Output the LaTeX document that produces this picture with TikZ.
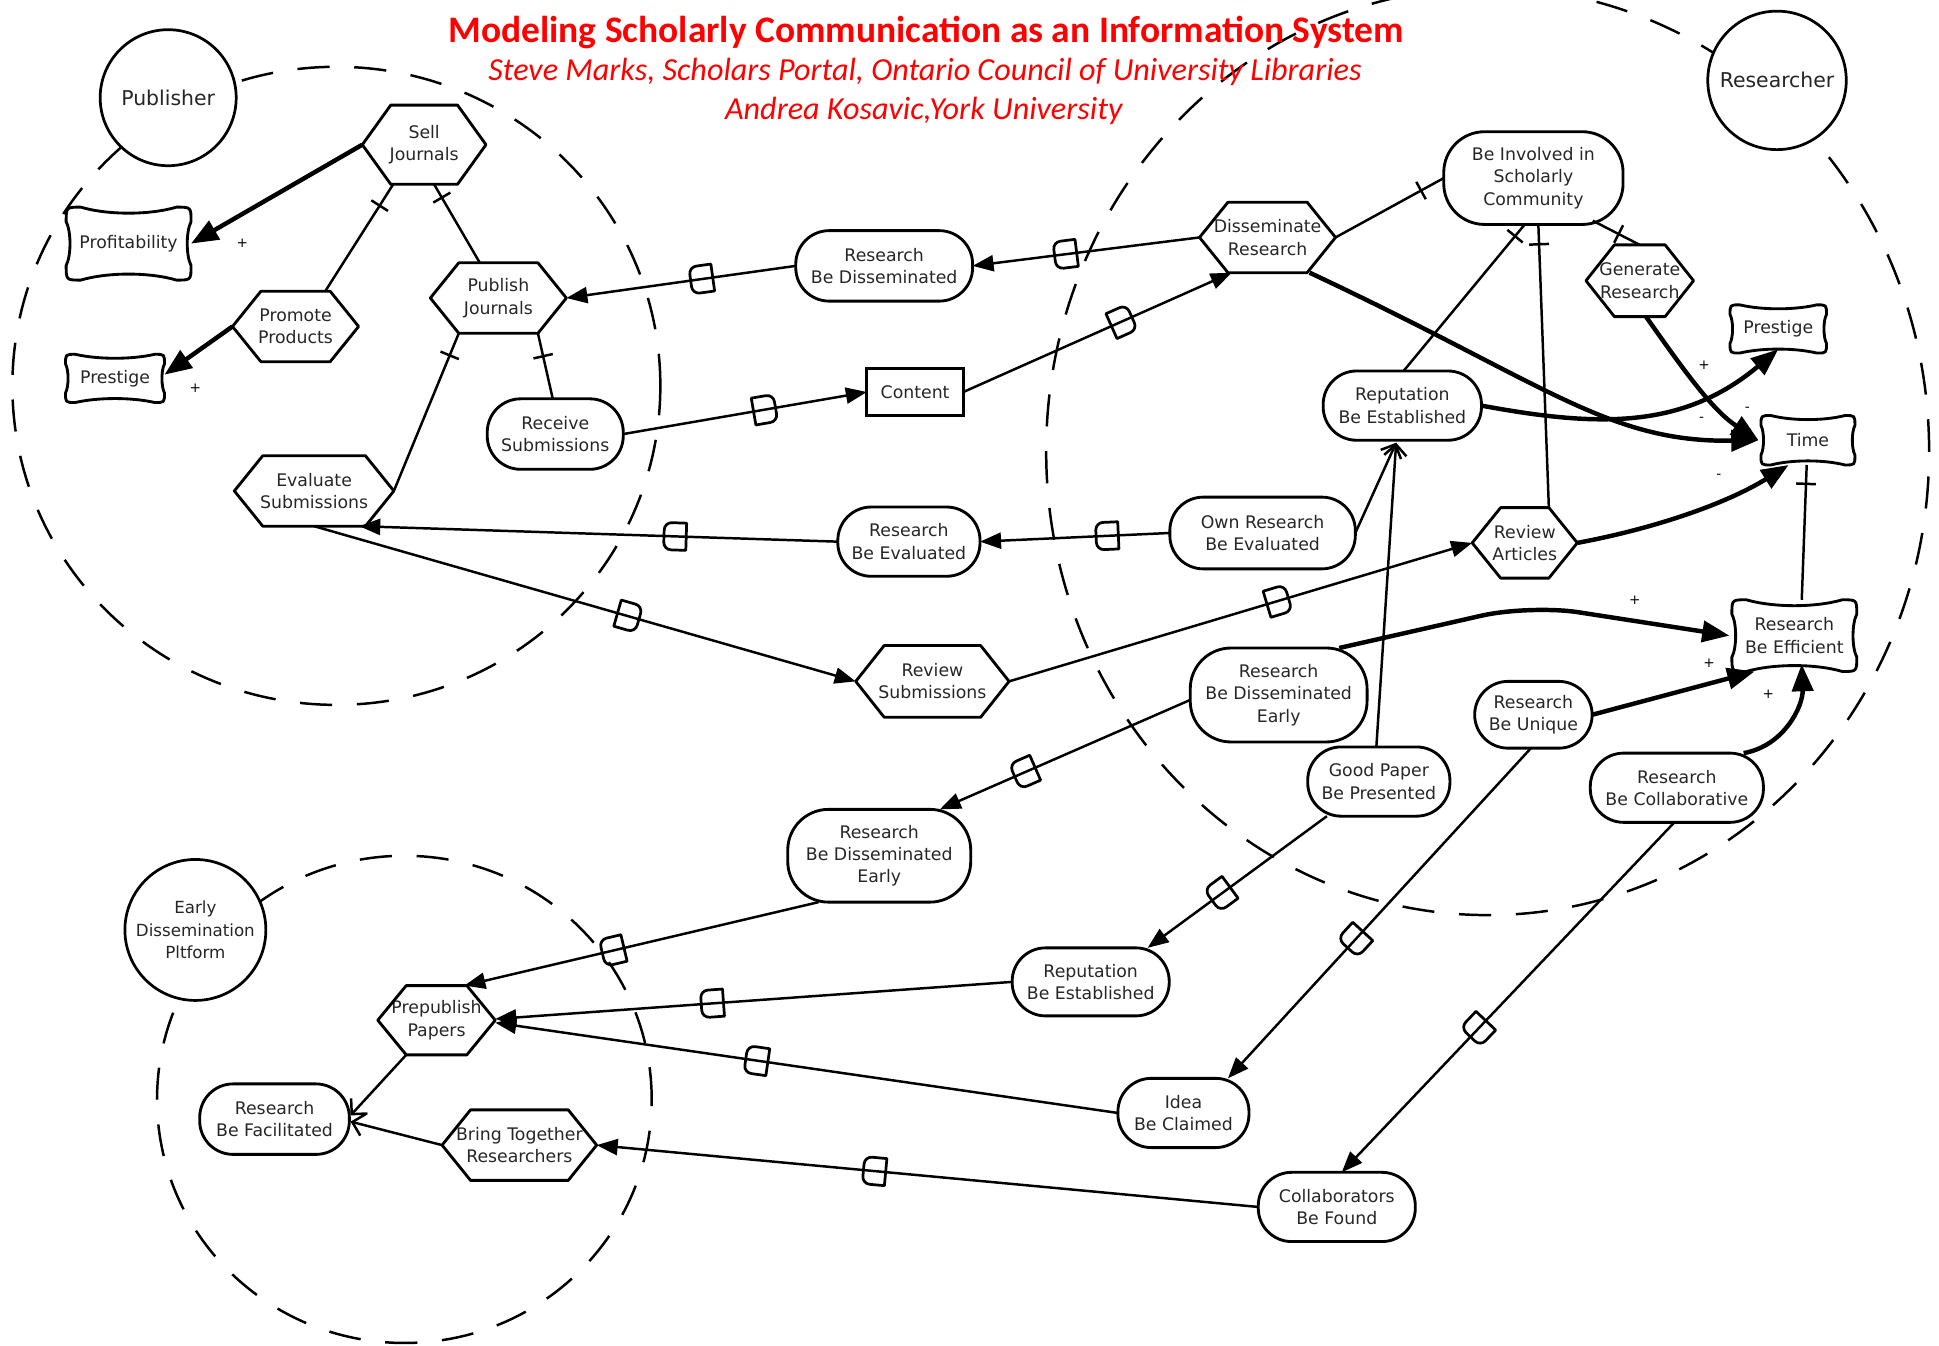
\documentclass[tikz,border=0pt]{standalone}
\usepackage{fontspec}
\setmainfont{DejaVu Sans}
\newfontfamily\headfont{Carlito}
\usetikzlibrary{arrows.meta,calc,decorations.markings}

% hexagonal task node: name, x, y, width, height, text
\newcommand{\hexnode}[6]{%
  \node[boxbase, minimum width=#4pt, minimum height=#5pt] (#1) at (#2,#3) {#6};
  \path (#1.north west) ++(23pt,0pt) coordinate (#1-tl)
        (#1.north east) ++(-23pt,0pt) coordinate (#1-tr)
        (#1.south west) ++(23pt,0pt) coordinate (#1-bl)
        (#1.south east) ++(-23pt,0pt) coordinate (#1-br);
  \draw[nodeline] (#1-tl) -- (#1-tr) -- (#1.east) -- (#1-br) -- (#1-bl) -- (#1.west) -- cycle;
}
% softgoal node with concave sides: name, x, y, width, height, text
\newcommand{\softnode}[6]{%
  \node[boxbase, minimum width=#4pt, minimum height=#5pt] (#1) at (#2,#3) {#6};
  \pgfmathsetmacro\sgA{#4/2}\pgfmathsetmacro\sgB{#5/2}
  \pgfmathsetmacro\sgAr{#4/2-0.4*#5/2}\pgfmathsetmacro\sgBr{0.6*#5/2}
  \pgfmathsetmacro\sgBk{0.78*#5/2}\pgfmathsetmacro\sgAs{#4/2-0.14*#5/2}
  \pgfmathsetmacro\sgAt{#4/6}\pgfmathsetmacro\sgBt{#5/6}
  \draw[nodeline, shift={(#1.center)}]
    (-\sgA,-\sgBr) .. controls (-\sgA,-\sgB) and (-\sgA,-\sgB) .. (-\sgAr,-\sgB)
    .. controls (-\sgAt,-\sgBk) and (\sgAt,-\sgBk) .. (\sgAr,-\sgB)
    .. controls (\sgA,-\sgB) and (\sgA,-\sgB) .. (\sgA,-\sgBr)
    .. controls (\sgAs,-\sgBt) and (\sgAs,\sgBt) .. (\sgA,\sgBr)
    .. controls (\sgA,\sgB) and (\sgA,\sgB) .. (\sgAr,\sgB)
    .. controls (\sgAt,\sgBk) and (-\sgAt,\sgBk) .. (-\sgAr,\sgB)
    .. controls (-\sgA,\sgB) and (-\sgA,\sgB) .. (-\sgA,\sgBr)
    .. controls (-\sgAs,\sgBt) and (-\sgAs,-\sgBt) .. (-\sgA,-\sgBr) -- cycle;
}

\begin{document}
\begin{tikzpicture}[x=1pt,y=-1pt,
  lbl/.style={font=\fontsize{14}{18}\selectfont, align=center, text=black!85},
  boxbase/.style={lbl, rectangle, inner sep=0pt, outer sep=0pt},
  nodeline/.style={line width=2.3pt, line join=round, draw=black},
  goal/.style={lbl, rectangle, draw, line width=2.3pt, rounded corners=#1, inner sep=0pt, outer sep=0pt},
  goal/.default=27pt,
  resource/.style={lbl, rectangle, draw, line width=2.3pt, inner sep=0pt, outer sep=0pt},
  actor/.style={circle, draw, line width=2.2pt, fill=white, align=center, inner sep=0pt, text=black!85},
  bnd/.style={line width=2pt, dash pattern=on 26pt off 20pt},
  link/.style={line width=2pt},
  dep/.style={link, -{Triangle[length=17pt,width=13pt]}},
  contrib/.style={line width=3.6pt, -{Triangle[length=22pt,width=17pt]}},
  meansend/.style={link, -{Straight Barb[length=9pt,width=18pt,line width=2pt]}},
  dmark/.style={postaction={decorate,decoration={markings,mark=at position #1 with
      {\draw[-,line width=2.2pt,line join=round] (-9pt,-11pt) [rounded corners=6pt] -- (9pt,-11pt)
        -- (9pt,11pt) [sharp corners] -- (-9pt,11pt) -- cycle;}}}},
  dbar/.style={postaction={decorate,decoration={markings,mark=at position #1 with
      {\draw[-,line width=2pt] (0pt,-8pt) -- (0pt,8pt);}}}},
  sign/.style={font=\fontsize{11}{11}\selectfont, inner sep=0pt},
  headline/.style={text=red, inner sep=0pt}
]
\useasboundingbox (0,0) rectangle (1568,1088);
\clip (0,0) rectangle (1568,1088);

% ---------- actor boundaries ----------
\draw[bnd] (272,312) ellipse [x radius=262pt, y radius=258pt];
\draw[bnd] (1203,365) ellipse [x radius=357pt, y radius=375pt];
\draw[bnd] (327,889) ellipse [x radius=200pt, y radius=197pt];

% ---------- actors ----------
\node[actor, minimum size=110pt, font=\fontsize{16.5}{20}\selectfont] (pub) at (136,79) {Publisher};
\node[actor, minimum size=112pt, font=\fontsize{16.5}{20}\selectfont] (resr) at (1437,65) {Researcher};
\node[actor, minimum size=114pt, font=\fontsize{13.5}{18}\selectfont] (edp) at (158,752) {Early\\Dissemination\\Pltform};

% ---------- title ----------
\node[headline, font=\headfont\bfseries\fontsize{30.3}{33}\selectfont] (title) at (749,26)
  {Modeling Scholarly Communication as an Information System};
\node[headline, font=\headfont\itshape\fontsize{26}{30}\selectfont] (auth1) at (748,58)
  {Steve Marks, Scholars Portal, Ontario Council of University Libraries};
\node[headline, font=\headfont\itshape\fontsize{26}{30}\selectfont] (auth2) at (747,90)
  {Andrea Kosavic,York University};

% ---------- tasks ----------
\hexnode{sj}{343}{117}{100}{64}{Sell\\Journals}
\hexnode{pp}{239}{264}{102}{57}{Promote\\Products}
\hexnode{pj}{403}{241}{110}{57}{Publish\\Journals}
\hexnode{es}{254}{397}{129}{57}{Evaluate\\Submissions}
\hexnode{revsub}{754}{551}{124}{58}{Review\\Submissions}
\hexnode{dr}{1025}{192}{110}{57}{Disseminate\\Research}
\hexnode{gr}{1326}{227}{87}{58}{Generate\\Research}
\hexnode{ra}{1233}{439}{85}{57}{Review\\Articles}
\hexnode{pre}{353}{825}{95}{56}{Prepublish\\Papers}
\hexnode{bt}{420}{926}{125}{57}{Bring Together\\Researchers}

% ---------- softgoals ----------
\softnode{prof}{104}{197}{101}{59}{Profitability}
\softnode{prl}{93}{306}{80}{39}{Prestige}
\softnode{prr}{1438}{266}{78}{39}{Prestige}
\softnode{time}{1462}{356}{76}{40}{Time}
\softnode{rbeff}{1451}{514}{101}{58}{Research\\Be Efficient}

% ---------- goals and resource ----------
\node[goal, minimum width=143pt, minimum height=57pt] (rbd) at (715,215) {Research\\Be Disseminated};
\node[resource, minimum width=78pt, minimum height=38pt] (content) at (740,317) {Content};
\node[goal, minimum width=115pt, minimum height=56pt] (rbev) at (735,438) {Research\\Be Evaluated};
\node[goal, minimum width=110pt, minimum height=57pt] (recv) at (449,351) {Receive\\Submissions};
\node[goal=33pt, minimum width=145pt, minimum height=75pt] (bi) at (1240,144) {Be Involved in\\Scholarly\\Community};
\node[goal, minimum width=128pt, minimum height=56pt] (rep) at (1134,328) {Reputation\\Be Established};
\node[goal, minimum width=150pt, minimum height=58pt] (orbe) at (1021,431) {Own Research\\Be Evaluated};
\node[goal=33pt, minimum width=143pt, minimum height=76pt] (rbder) at (1034,562) {Research\\Be Disseminated\\Early};
\node[goal, minimum width=95pt, minimum height=54pt] (rbu) at (1240,578) {Research\\Be Unique};
\node[goal, minimum width=115pt, minimum height=56pt] (gp) at (1115,632) {Good Paper\\Be Presented};
\node[goal, minimum width=140pt, minimum height=56pt] (rbc) at (1356,637) {Research\\Be Collaborative};
\node[goal=33pt, minimum width=148pt, minimum height=75pt] (rbdem) at (711,692) {Research\\Be Disseminated\\Early};
\node[goal, minimum width=127pt, minimum height=55pt] (repl) at (882,794) {Reputation\\Be Established};
\node[goal, minimum width=106pt, minimum height=56pt] (idea) at (957,900) {Idea\\Be Claimed};
\node[goal, minimum width=127pt, minimum height=56pt] (cbf) at (1081,976) {Collaborators\\Be Found};
\node[goal, minimum width=121pt, minimum height=57pt] (rbf) at (222,905) {Research\\Be Facilitated};

% ---------- decompositions ----------
\draw[link, dbar=0.2] ($(sj-bl)+(2pt,0pt)$) -- ($(pp-tr)+(-4pt,0pt)$);
\draw[link, dbar=0.17] ($(sj.south)+(8pt,0pt)$) -- ($(pj.north)+(-15pt,0pt)$);
\draw[link, dbar=0.14] (pj-bl) -- (es.east);
\draw[link, dbar=0.35] (pj-br) -- ($(recv.north)+(-2pt,0pt)$);
\draw[link, dbar=0.21] (bi.west) -- (dr.east);
\draw[link, dbar=0.55] ($(bi.south)+(48pt,3pt)$) -- (gr.north);
\draw[link, dbar=0.08] ($(bi.south)+(-7pt,0pt)$) -- ($(rep.north)+(1pt,0pt)$);
\draw[link, dbar=0.07] ($(bi.south)+(4pt,0pt)$) -- (ra-tr);
\draw[link, dbar=0.14] ($(time.south)+(-1pt,0pt)$) -- ($(rbeff.north)+(6pt,0pt)$);

% ---------- contributions ----------
\draw[contrib] (sj.west) -- (prof.east);
\node[sign] (s1) at (196,197) {+};
\draw[contrib] (pp.west) -- ($(prl.east)+(0pt,3pt)$);
\node[sign] (s2) at (158,314) {+};
\draw[contrib] ($(dr-br)+(2pt,0pt)$) .. controls (1250,310) and (1300,358) .. ($(time.west)+(-2pt,0pt)$);
\draw[contrib] ($(gr.south)+(5pt,0pt)$) .. controls (1362,300) and (1385,332) .. ($(time.west)+(-2pt,0pt)$);
\draw[contrib] (rep.east) .. controls (1290,345) and (1360,348) .. ($(prr.south)+(0pt,3pt)$);
\draw[contrib] (ra.east) .. controls (1335,428) and (1395,408) .. (time.-128);
\node[sign] (s3) at (1378,295) {+};
\node[sign] (s4) at (1376,339) {-};
\node[sign] (s5) at (1413,331) {-};
\node[sign] (s6) at (1390,385) {-};
\draw[contrib, rounded corners=40pt] ($(rbder.north)+(49pt,0pt)$) -- (1237,489) -- ($(rbeff.west)+(-2pt,0pt)$);
\draw[contrib] (rbu.east) -- (rbeff.-138);
\draw[contrib] ($(rbc.north)+(54pt,0pt)$) to[out=10,in=-88] ($(rbeff.south)+(6pt,6pt)$);
\node[sign] (s7) at (1322,485) {+};
\node[sign] (s8) at (1382,536) {+};
\node[sign] (s9) at (1430,561) {+};

% ---------- means-ends ----------
\draw[meansend] (orbe.east) -- ($(rep.south)+(-5pt,-2pt)$);
\draw[meansend] ($(gp.north)+(-2pt,0pt)$) -- ($(rep.south)+(-5pt,-2pt)$);
\draw[meansend] (pre-bl) -- ($(rbf.east)+(1pt,3pt)$);
\draw[meansend] (bt.west) -- ($(rbf.east)+(1pt,-2pt)$);

% ---------- dependencies ----------
\draw[dep, dmark=0.59] (dr.west) -- (rbd.east);
\draw[dep, dmark=0.41] (rbd.west) -- (pj.east);
\draw[dep, dmark=0.58] (recv.east) -- (content.west);
\draw[dep, dmark=0.59] (content.east) -- ($(dr-bl)+(3pt,0pt)$);
\draw[dep, dmark=0.33] (orbe.west) -- (rbev.east);
\draw[dep, dmark=0.34] (rbev.west) -- ($(es-br)+(-5pt,0pt)$);
\draw[dep, dmark=0.58] (es.south) -- (revsub.west);
\draw[dep, dmark=0.58] (revsub.east) -- (ra.west);
\draw[dep, dmark=0.66] ($(rbder.west)+(0pt,-4pt)$) -- ($(rbdem.north)+(49pt,0pt)$);
\draw[dep, dmark=0.58] ($(rbdem.south)+(-49pt,0pt)$) -- ($(pre-tr)+(-2pt,0pt)$);
\draw[dep, dmark=0.59] ($(gp.south)+(-42pt,0pt)$) -- ($(repl.north)+(46pt,0pt)$);
\draw[dep, dmark=0.58] (repl.west) -- ($(pre.east)+(0pt,1pt)$);
\draw[dep, dmark=0.58] ($(rbu.south)+(-2pt,0pt)$) -- ($(idea.north)+(36pt,0pt)$);
\draw[dep, dmark=0.58] (idea.west) -- ($(pre.east)+(0pt,-2pt)$);
\draw[dep, dmark=0.59] ($(rbc.south)+(-2pt,0pt)$) -- ($(cbf.north)+(4pt,0pt)$);
\draw[dep, dmark=0.58] (cbf.west) -- (bt.east);
\end{tikzpicture}
\end{document}
